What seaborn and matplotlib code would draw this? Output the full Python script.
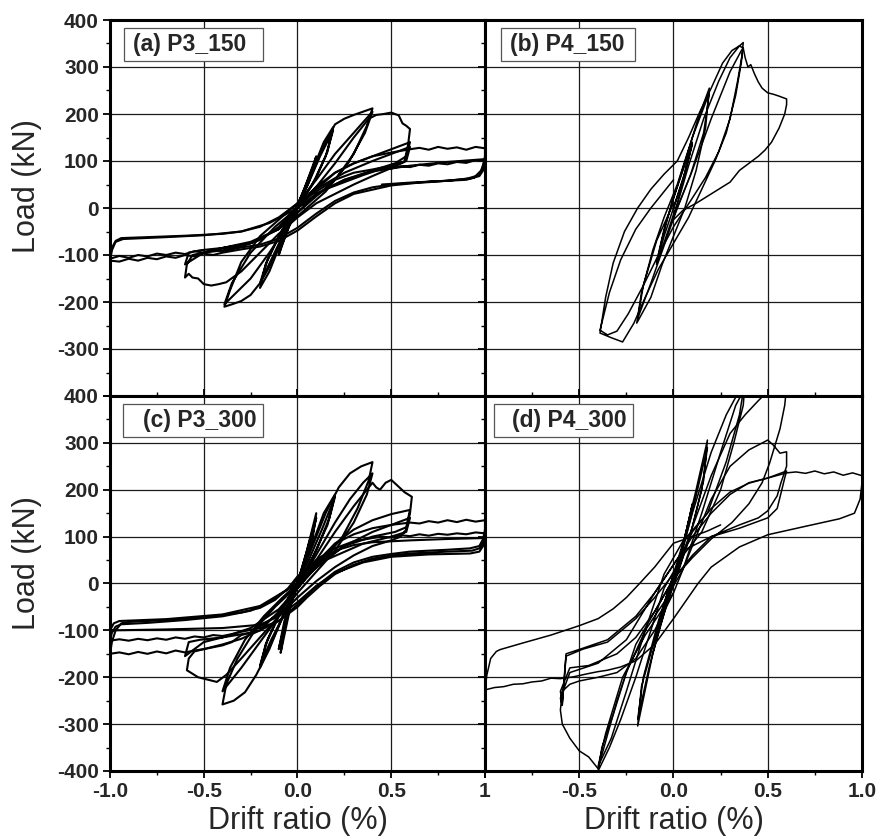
import matplotlib
matplotlib.use("Agg")
import matplotlib.pyplot as plt
import seaborn as sns
from matplotlib.patches import Rectangle
from matplotlib.ticker import MultipleLocator

# ---------------- data (drift ratio %, load kN) ----------------
# (a) P3_150
A1_D = [0.00, 0.05, 0.10, 0.07, 0.02, -0.03, -0.10, -0.07, -0.02, 0.04, 0.10, 0.06, 0.00, -0.05, -0.10, -0.06, 0.00,
        0.08, 0.14, 0.19, 0.16, 0.10, 0.03, -0.04, -0.10, -0.15, -0.20, -0.17, -0.10, -0.03,
        0.05, 0.12, 0.19, 0.15, 0.08, 0.00, -0.08, -0.14, -0.20, -0.16, -0.08, 0.00]
A1_L = [0, 55, 110, 70, 25, -20, -100, -60, -15, 45, 105, 55, 5, -45, -95, -45, 5,
        80, 140, 172, 120, 65, 20, -30, -85, -135, -170, -120, -60, -15,
        45, 110, 165, 110, 50, 0, -60, -110, -160, -110, -45, 0]
A2_D = [0.00, 0.08, 0.15, 0.20, 0.25, 0.30, 0.35, 0.40,
        0.37, 0.30, 0.20, 0.10, 0.00,
        -0.08, -0.15, -0.20, -0.25, -0.30, -0.35, -0.39,
        -0.36, -0.30, -0.20, -0.10, 0.00,
        0.10, 0.20, 0.30, 0.40,
        0.36, 0.27, 0.15, 0.05, -0.05, -0.15, -0.25, -0.39,
        -0.35, -0.25, -0.12, 0.00]
A2_L = [0, 75, 140, 178, 190, 198, 205, 212,
        175, 115, 60, 25, -10,
        -60, -125, -160, -185, -198, -205, -210,
        -175, -115, -60, -25, 10,
        60, 115, 160, 205,
        160, 95, 35, 0, -35, -95, -150, -205,
        -160, -95, -40, 0]
A3_D = [0.00, 0.10, 0.20, 0.30, 0.38, 0.42, 0.46, 0.50, 0.52, 0.54, 0.56, 0.58, 0.60,
        0.59, 0.57, 0.50, 0.40, 0.30, 0.20, 0.10, 0.00, -0.10, -0.20, -0.30, -0.38, -0.42, -0.46, -0.50, -0.53, -0.56, -0.58, -0.60,
        -0.59, -0.56, -0.50, -0.40, -0.30, -0.20, -0.10, 0.00, 0.10, 0.20, 0.30, 0.40, 0.50, 0.60,
        0.58, 0.52, 0.40, 0.25, 0.10, 0.00, -0.10, -0.25, -0.40, -0.50, -0.60,
        -0.58, -0.52, -0.40, -0.25, -0.10, 0.00, 0.10, 0.25, 0.40, 0.50, 0.60,
        0.58, 0.50, 0.35, 0.15, 0.00]
A3_L = [0, 45, 95, 150, 190, 198, 200, 203, 200, 197, 180, 175, 168,
        135, 98, 85, 68, 50, 30, 10, -20, -55, -95, -135, -158, -162, -165, -162, -150, -148, -140, -148,
        -120, -100, -95, -90, -82, -68, -40, 5, 45, 75, 95, 110, 125, 140,
        110, 95, 80, 60, 30, -10, -45, -72, -85, -95, -120,
        -95, -90, -85, -75, -45, 0, 40, 75, 100, 115, 130,
        100, 90, 70, 40, 0]
A4_D = [0.00, 0.10, 0.20, 0.30, 0.40, 0.50, 0.60,
        0.65, 0.70, 0.75, 0.80, 0.85, 0.90, 0.95, 1.00,
        1.00, 0.99, 0.97, 0.90, 0.80, 0.70, 0.60, 0.50, 0.40, 0.30, 0.20, 0.10, 0.00,
        -0.10, -0.20, -0.30,
        -0.35, -0.40, -0.45, -0.50, -0.55, -0.60, -0.65, -0.70, -0.75, -0.80, -0.85, -0.90, -0.95, -1.00,
        -0.99, -0.97, -0.94, -0.80, -0.60, -0.40, -0.30, -0.20, -0.10, 0.00]
A4_L = [0, 40, 75, 95, 110, 118, 125,
        128, 124, 130, 126, 129, 124, 130, 127,
        110, 90, 70, 62, 58, 55, 53, 50, 44, 33, 15, -12, -42,
        -65, -78, -84,
        -88, -92, -89, -95, -92, -98, -95, -100, -97, -103, -100, -106, -102, -108,
        -85, -70, -64, -62, -59, -55, -50, -40, -20, 10]
A5_D = [0.00, 0.10, 0.20, 0.30, 0.40,
        0.45, 0.50, 0.55, 0.60, 0.65, 0.70, 0.75, 0.80, 0.85, 0.90, 0.95, 1.00,
        0.99, 0.97, 0.90, 0.70, 0.50, 0.30, 0.20, 0.10, 0.00,
        -0.10, -0.20, -0.30, -0.40,
        -0.45, -0.50, -0.55, -0.60, -0.65, -0.70, -0.75, -0.80, -0.85, -0.90, -0.95, -1.00,
        -0.99, -0.97, -0.93, -0.70, -0.50, -0.30, -0.15, 0.00,
        0.10, 0.25, 0.40, 0.60, 0.80, 1.00,
        0.98, 0.94, 0.80, 0.60, 0.45]
A5_L = [10, 35, 60, 75, 82,
        86, 84, 89, 87, 92, 90, 95, 93, 98, 96, 102, 100,
        80, 68, 60, 56, 48, 30, 10, -18, -48,
        -70, -82, -88, -95,
        -100, -97, -103, -100, -106, -103, -109, -106, -112, -108, -114, -112,
        -90, -72, -66, -62, -58, -50, -32, 0,
        30, 60, 78, 90, 98, 104,
        80, 64, 58, 54, 50]

# (b) P4_150
B1_D = [0.00, 0.05, 0.10, 0.07, 0.02, -0.03, -0.09, -0.06, -0.01, 0.05, 0.10, 0.06, 0.00, -0.05, -0.09, -0.05, 0.00,
        0.07, 0.13, 0.19, 0.17, 0.12, 0.06, 0.00, -0.06, -0.12, -0.195, -0.17, -0.11, -0.05,
        0.02, 0.10, 0.19, 0.16, 0.09, 0.02, -0.05, -0.12, -0.19, -0.16, -0.09, 0.00]
B1_L = [0, 60, 140, 85, 10, -50, -120, -65, 10, 80, 135, 75, 0, -60, -115, -45, 20,
        110, 190, 255, 170, 80, 0, -60, -120, -190, -245, -180, -90, -20,
        50, 150, 245, 160, 70, 0, -80, -160, -235, -165, -70, 10]
B2_D = [0.00, 0.08, 0.16, 0.24, 0.30, 0.35, 0.37,
        0.36, 0.33, 0.28, 0.22, 0.15, 0.08, 0.00, -0.08, -0.15, -0.21, -0.27,
        -0.33, -0.39,
        -0.36, -0.32, -0.26, -0.19, -0.12, -0.05, 0.02, 0.08, 0.14, 0.20, 0.26, 0.31, 0.35, 0.37,
        0.34, 0.30, 0.24, 0.17, 0.09, 0.00, -0.08, -0.16, -0.24, -0.30, -0.35, -0.39,
        -0.34, -0.28, -0.20, -0.12, -0.04, 0.00]
B2_L = [-20, 90, 190, 270, 320, 345, 352,
        310, 240, 160, 100, 40, -20, -75, -130, -190, -245, -285,
        -276, -266,
        -190, -117, -50, 0, 40, 72, 100, 150, 205, 255, 308, 335, 345, 340,
        270, 190, 120, 65, 15, -40, -100, -165, -225, -262, -270, -260,
        -180, -110, -45, 0, 40, 60]
B3_D = [0.00, 0.10, 0.20, 0.30, 0.36, 0.37, 0.38, 0.395, 0.41, 0.43, 0.45, 0.47, 0.50, 0.53, 0.56, 0.60,
        0.60, 0.59, 0.56, 0.52, 0.485, 0.45, 0.40, 0.35, 0.30, 0.20, 0.12, 0.05, 0.00]
B3_L = [-20, 80, 190, 290, 335, 340, 320, 300, 305, 285, 268, 255, 245, 242, 238, 232,
        220, 200, 170, 140, 123, 110, 95, 80, 55, 30, 10, -5, -25]

# (c) P3_300
C1_D = [0.00, 0.05, 0.10, 0.08, 0.03, -0.03, -0.09, -0.07, -0.02, 0.04, 0.10, 0.07, 0.00, -0.06, -0.10, -0.07, 0.00,
        0.08, 0.14, 0.20, 0.17, 0.10, 0.03, -0.05, -0.12, -0.20, -0.17, -0.10, -0.02,
        0.06, 0.13, 0.20, 0.16, 0.08, 0.00, -0.07, -0.14, -0.20, -0.16, -0.08, 0.00]
C1_L = [0, 70, 150, 95, 30, -35, -148, -95, -25, 55, 140, 85, 0, -75, -140, -80, 5,
        85, 150, 190, 140, 70, 15, -45, -110, -180, -130, -70, -10,
        50, 115, 185, 125, 55, -5, -65, -120, -175, -120, -50, 0]
C2_D = [0.00, 0.08, 0.15, 0.22, 0.28, 0.34, 0.40,
        0.38, 0.32, 0.24, 0.15, 0.06, 0.00, -0.08, -0.15, -0.22, -0.28, -0.34, -0.40,
        -0.38, -0.32, -0.22, -0.12, -0.04, 0.04, 0.12, 0.20, 0.28, 0.35, 0.40,
        0.37, 0.30, 0.20, 0.10, 0.00, -0.10, -0.20, -0.30, -0.40,
        -0.36, -0.28, -0.18, -0.08, 0.00]
C2_L = [0, 80, 150, 205, 235, 250, 259,
        220, 160, 100, 55, 20, -5, -70, -140, -195, -232, -250, -258,
        -215, -160, -95, -50, -20, 20, 75, 130, 180, 215, 235,
        190, 130, 70, 25, -20, -70, -125, -180, -230,
        -180, -120, -70, -30, 0]
C3_D = [0.00, 0.10, 0.20, 0.30, 0.40, 0.42, 0.44, 0.47, 0.50, 0.53, 0.57, 0.61,
        0.60, 0.58, 0.55, 0.50, 0.40, 0.30, 0.20, 0.10, 0.00, -0.10, -0.20, -0.30, -0.38, -0.43, -0.48, -0.53, -0.57, -0.59,
        -0.58, -0.55, -0.50, -0.40, -0.30, -0.20, -0.10, 0.00, 0.10, 0.20, 0.30, 0.40, 0.50, 0.60,
        0.58, 0.52, 0.40, 0.25, 0.10, 0.00, -0.10, -0.25, -0.40, -0.50, -0.60,
        -0.58, -0.52, -0.40, -0.25, -0.10, 0.00, 0.10, 0.25, 0.40, 0.50, 0.60,
        0.58, 0.50, 0.35, 0.15, 0.00]
C3_L = [-10, 50, 110, 165, 215, 205, 200, 215, 221, 210, 195, 185,
        150, 115, 100, 92, 80, 60, 35, 5, -30, -70, -115, -160, -195, -210, -205, -200, -190, -185,
        -160, -145, -140, -130, -118, -100, -60, -10, 40, 85, 115, 135, 148, 157,
        120, 110, 100, 80, 40, -10, -55, -95, -115, -125, -155,
        -125, -120, -115, -105, -65, -10, 35, 80, 110, 125, 140,
        110, 100, 85, 50, 0]
C4_D = [0.00, 0.10, 0.20, 0.30, 0.40, 0.50, 0.60,
        0.65, 0.70, 0.75, 0.80, 0.85, 0.90, 0.95, 1.00,
        1.00, 0.99, 0.97, 0.92, 0.80, 0.60, 0.50, 0.40, 0.30, 0.20, 0.12, 0.05, 0.00, -0.10, -0.20, -0.30,
        -0.35, -0.40, -0.45, -0.50, -0.55, -0.60, -0.65, -0.70, -0.75, -0.80, -0.85, -0.90, -0.95, -1.00,
        -0.99, -0.97, -0.94, -0.90, -0.70, -0.50, -0.30, -0.20, -0.12, -0.05, 0.00, 0.10, 0.20, 0.30, 0.40,
        0.45, 0.50, 0.55, 0.60, 0.65, 0.70, 0.75, 0.80, 0.85, 0.90, 0.95, 1.00]
C4_L = [-10, 45, 85, 105, 118, 125, 130,
        128, 133, 130, 135, 131, 136, 132, 135,
        115, 95, 80, 75, 72, 68, 63, 57, 45, 25, 0, -25, -45, -80, -100, -110,
        -125, -132, -136, -140, -143, -147, -143, -149, -145, -150, -146, -151, -147, -150,
        -125, -100, -85, -82, -78, -72, -62, -52, -35, -10, 15, 50, 75, 90, 97,
        100, 98, 103, 101, 105, 102, 106, 104, 107, 105, 109, 107]
C5_D = [1.00, 0.99, 0.97, 0.93, 0.80, 0.60, 0.50, 0.40, 0.30, 0.20, 0.12, 0.05, 0.00, -0.10, -0.20, -0.30,
        -0.35, -0.40, -0.45, -0.50, -0.55, -0.60, -0.65, -0.70, -0.75, -0.80, -0.85, -0.90, -0.95, -1.00,
        -0.99, -0.97, -0.94, -0.80, -0.60, -0.40, -0.25, -0.15, -0.05, 0.00, 0.10, 0.20, 0.30, 0.40, 0.60, 0.80, 1.00,
        0.99, 0.97, 0.92, 0.70, 0.50, 0.35, 0.20, 0.10, 0.00, -0.10, -0.20, -0.40, -0.70, -1.00,
        -0.98, -0.95, -0.70, -0.40, -0.20, 0.00]
C5_L = [107, 88, 75, 70, 68, 64, 60, 53, 40, 20, -5, -30, -50, -80, -95, -103,
        -108, -112, -110, -115, -113, -118, -115, -120, -117, -121, -118, -122, -119, -122,
        -105, -92, -87, -84, -78, -70, -58, -40, -12, 10, 45, 70, 82, 88, 92, 95, 97,
        80, 68, 64, 62, 57, 45, 22, -5, -40, -70, -88, -95, -98, -100,
        -85, -80, -76, -66, -48, 0]

# (d) P4_300
D1_D = [0.00, 0.05, 0.10, 0.07, 0.02, -0.04, -0.10, -0.07, -0.02, 0.04, 0.10, 0.06, 0.00, -0.05, -0.10, -0.06, 0.00,
        0.06, 0.12, 0.18, 0.16, 0.10, 0.03, -0.04, -0.11, -0.19, -0.17, -0.10, -0.03,
        0.04, 0.11, 0.18, 0.15, 0.08, 0.00, -0.07, -0.13, -0.19, -0.16, -0.08, 0.00]
D1_L = [0, 80, 170, 110, 40, -30, -120, -70, -10, 60, 165, 100, 20, -60, -125, -65, 0,
        100, 200, 306, 220, 120, 30, -50, -150, -304, -220, -120, -30,
        60, 170, 290, 200, 90, 0, -90, -180, -290, -200, -80, 20]
D2_D = [0.00, 0.10, 0.20, 0.28, 0.34, 0.38,
        0.37, 0.32, 0.25, 0.15, 0.05, -0.05, -0.12, -0.20, -0.28, -0.34, -0.40,
        -0.38, -0.32, -0.25, -0.15, -0.05, 0.05, 0.15, 0.25, 0.33, 0.37,
        0.35, 0.28, 0.18, 0.05, -0.05, -0.15, -0.25, -0.33, -0.40,
        -0.36, -0.27, -0.15, 0.00]
D2_L = [0, 150, 280, 360, 405, 430,
        380, 300, 200, 110, 60, -10, -100, -200, -290, -350, -400,
        -350, -280, -190, -100, -40, 30, 150, 280, 380, 410,
        360, 260, 150, 90, 20, -100, -230, -330, -390,
        -320, -200, -110, -20]
D3_D = [0.00, 0.10, 0.20, 0.30, 0.38, 0.45, 0.50, 0.55,
        0.60, 0.59, 0.565, 0.51, 0.47, 0.40, 0.31, 0.20, 0.10, 0.00, -0.10, -0.20, -0.30, -0.40,
        -0.45, -0.50, -0.55, -0.59, -0.60, -0.59, -0.55, -0.50, -0.40, -0.30, -0.20, -0.10, 0.00, 0.10, 0.20, 0.30, 0.40, 0.50,
        0.53, 0.565, 0.60, 0.60, 0.57, 0.55, 0.50, 0.45, 0.35, 0.20, 0.10, 0.00, -0.10, -0.20, -0.30, -0.45, -0.55, -0.60,
        -0.59, -0.57, -0.48, -0.35, -0.20, -0.10, 0.00, 0.10, 0.20, 0.30, 0.40, 0.50, 0.60,
        0.59, 0.55, 0.50, 0.35, 0.20, 0.05, -0.10, -0.25, -0.40, -0.55, -0.60,
        -0.59, -0.57, -0.48, -0.35, -0.20, -0.10, 0.00]
D3_L = [10, 120, 230, 320, 360, 390, 410, 430,
        420, 380, 330, 257, 215, 170, 130, 95, 55, 10, -60, -130, -250, -395,
        -370, -357, -330, -300, -270, -230, -215, -208, -200, -190, -160, -100, -20, 80, 180, 250, 285, 306,
        295, 278, 281, 250, 215, 187, 155, 140, 125, 100, 60, 10, -60, -115, -150, -175, -180, -230,
        -255, -150, -138, -120, -70, -20, 40, 100, 150, 190, 215, 225, 240,
        225, 160, 140, 118, 100, 70, -20, -120, -170, -190, -245,
        -260, -155, -140, -125, -75, -30, 20]
D4_D = [0.00, 0.10, 0.20, 0.30, 0.40, 0.50, 0.60,
        0.65, 0.70, 0.75, 0.80, 0.85, 0.90, 0.95, 1.00,
        1.00, 0.99, 0.96, 0.88, 0.70, 0.50, 0.35, 0.20, 0.13, 0.00, -0.10, -0.20, -0.28,
        -0.35, -0.40, -0.45, -0.53, -0.60, -0.65, -0.70, -0.75, -0.80, -0.85, -0.90, -0.95, -1.00,
        -0.99, -0.97, -0.94, -0.92, -0.80, -0.65, -0.50, -0.40, -0.32, -0.25, -0.18, -0.10, 0.00, 0.10, 0.18, 0.25]
D4_L = [20, 110, 160, 195, 214, 225, 236,
        238, 235, 240, 234, 238, 231, 236, 230,
        215, 180, 150, 138, 122, 104, 78, 35, 0, -75, -130, -165, -178,
        -185, -188, -192, -199, -203, -202, -208, -210, -214, -215, -220, -222, -227,
        -195, -160, -145, -141, -127, -110, -90, -75, -54, -30, 0, 35, 86, 100, 112, 125]

PANELS = [
    ("(a) P3_150", [(A1_D, A1_L), (A2_D, A2_L), (A3_D, A3_L), (A4_D, A4_L), (A5_D, A5_L)]),
    ("(b) P4_150", [(B1_D, B1_L), (B2_D, B2_L), (B3_D, B3_L)]),
    ("(c) P3_300", [(C1_D, C1_L), (C2_D, C2_L), (C3_D, C3_L), (C4_D, C4_L), (C5_D, C5_L)]),
    ("(d) P4_300", [(D1_D, D1_L), (D2_D, D2_L), (D3_D, D3_L), (D4_D, D4_L)]),
]
Y_TICKS = [-400, -300, -200, -100, 0, 100, 200, 300, 400]
X_TICKS = [-1.0, -0.5, 0.0, 0.5, 1.0]
X_LABELS_LEFT = ["-1.0", "-0.5", "0.0", "0.5", "1"]
X_LABELS_RIGHT = ["", "-0.5", "0.0", "0.5", "1.0"]

# ---------------- figure ----------------
sns.set_theme(style="white")
plt.rcParams['font.family'] = ['Liberation Sans', 'DejaVu Sans']

W, H = 887, 840
fig = plt.figure(figsize=(W / 100, H / 100), dpi=100)

def frac(x0, y0, x1, y1):
    return [x0 / W, 1 - y1 / H, (x1 - x0) / W, (y1 - y0) / H]

boxes = [frac(110, 20, 485, 396), frac(485, 20, 862, 396),
         frac(110, 396, 485, 771), frac(485, 396, 862, 771)]
label_box = [(0.037, 0.408, 0.061), (0.042, 0.398, 0.066),
             (0.035, 0.408, 0.088), (0.024, 0.393, 0.072)]
lws = [1.5, 1.1, 1.5, 1.1]

for i, (title, segs) in enumerate(PANELS):
    ax = fig.add_axes(boxes[i])
    for dd, ll in segs:
        sns.lineplot(x=dd, y=ll, sort=False, estimator=None, color="black",
                     linewidth=lws[i], ax=ax, legend=False)
    ax.set_xlim(-1, 1)
    ax.set_ylim(-400, 400)
    ax.set_xlabel("")
    ax.set_ylabel("")
    ax.xaxis.set_minor_locator(MultipleLocator(0.25))
    ax.yaxis.set_minor_locator(MultipleLocator(50))
    ax.grid(True, which="major", color="#1a1a1a", linewidth=0.9)
    ax.set_axisbelow(True)
    for s in ax.spines.values():
        s.set_linewidth(2.2)
        s.set_color("black")
    is_left = i in (0, 2)
    is_bottom = i in (2, 3)
    if is_left:
        if is_bottom:
            ylabels = [str(v) for v in Y_TICKS]
        else:
            ylabels = [""] + [str(v) for v in Y_TICKS[1:]]
    else:
        ylabels = [""] * len(Y_TICKS)
    ax.set_yticks(Y_TICKS, labels=ylabels, fontweight="bold", fontsize=15)
    if is_bottom:
        xl = X_LABELS_LEFT if is_left else X_LABELS_RIGHT
    else:
        xl = [""] * len(X_TICKS)
    ax.set_xticks(X_TICKS, labels=xl, fontweight="bold", fontsize=15)
    ax.tick_params(axis="both", which="major", length=5, width=1.3, color="black",
                   pad=3, left=True, bottom=True, top=False, right=False)
    ax.tick_params(axis="both", which="minor", length=3, width=1.0, color="black",
                   left=True, bottom=True, top=False, right=False)
    ax.tick_params(axis="y", which="both", direction="out")
    ax.tick_params(axis="x", which="both", direction="out" if is_bottom else "in")
    x0, x1, tx = label_box[i]
    ax.add_patch(Rectangle((x0, 0.891), x1 - x0, 0.088, transform=ax.transAxes,
                           facecolor="white", edgecolor="#555555", linewidth=0.9, zorder=5))
    ax.text(tx, 0.935, title, transform=ax.transAxes, ha="left", va="center",
            fontsize=16.5, fontweight="bold", zorder=6)

fig.text(27 / W, 1 - 186 / H, "Load (kN)", rotation=90, ha="center", va="center", fontsize=22)
fig.text(27 / W, 1 - 563 / H, "Load (kN)", rotation=90, ha="center", va="center", fontsize=22)
fig.text(298 / W, 1 - 821 / H, "Drift ratio (%)", ha="center", va="center", fontsize=22)
fig.text(674 / W, 1 - 821 / H, "Drift ratio (%)", ha="center", va="center", fontsize=22)

fig.savefig("out.png", dpi=100)
